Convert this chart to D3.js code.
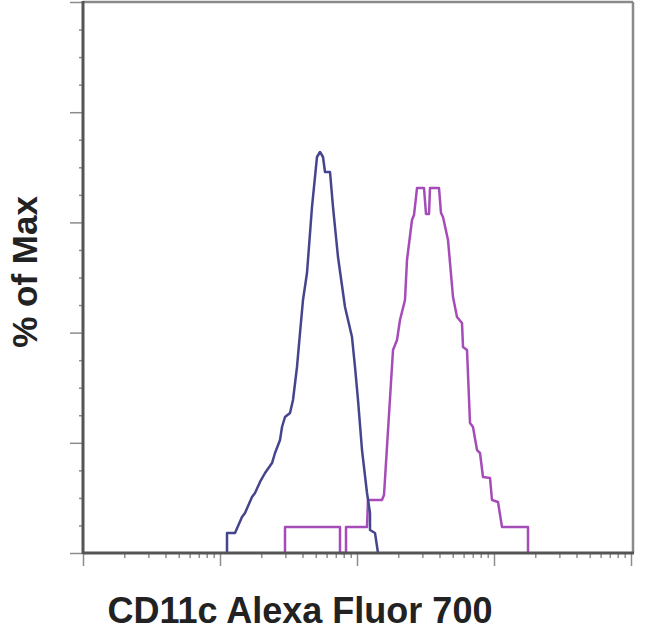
<!DOCTYPE html>
<html>
<head>
<meta charset="utf-8">
<script src="https://cdn.jsdelivr.net/npm/d3@7"></script>
<style>
  html, body { margin: 0; padding: 0; background: #fff; }
  svg { display: block; }
</style>
</head>
<body>
<svg id="chart" width="650" height="634"></svg>
<script>
// ---- data ----
const xLabel = "CD11c Alexa Fluor 700";
const yLabel = "% of Max";

// blue (control) histogram outline: intensity, % of max
const blueX = [112.5, 112.5, 128.7, 144.7, 152.2, 171.2, 180.1, 195.9, 213.1, 239.7, 252.1, 274.2, 283.6, 298.2, 324.3, 341.1, 364.8, 383.7, 403.5, 431.5, 469.3, 510.5, 537.0, 564.7, 584.1, 635.3, 668.2, 726.6, 817.4, 919.3, 966.9, 1016.9, 1087.7, 1183.1, 1244.3, 1244.3, 1353.4, 1423.4];
const blueY = [0, 3.63, 3.63, 6.53, 7.26, 10.16, 10.89, 12.89, 14.52, 16.33, 18.15, 20.51, 22.87, 24.68, 25.41, 27.77, 33.76, 39.93, 45.92, 50.82, 62.79, 71.87, 72.78, 71.87, 69.15, 69.15, 62.79, 53.72, 44.65, 39.20, 33.76, 27.77, 18.69, 10.89, 7.26, 4.17, 3.63, 0];

// magenta (stained) histogram outline: intensity, % of max
const magentaX = [298.2, 298.2, 751.4, 751.4, 831.3, 831.3, 1183.1, 1203.2, 1522.1, 1574.2, 1831.7, 1959.1, 2059.5, 2240.2, 2317.0, 2520.0, 2606.4, 2741.7, 3084.1, 3188.8, 3353.9, 3410.8, 3967.6, 4103.3, 4243.7, 4616.0, 5020.9, 5370.3, 5840.6, 5939.8, 6353.3, 6681.3, 7026.8, 7514.6, 7903.0, 8312.6, 9350.4, 9669, 10695, 11439, 17712, 17712];
const magentaY = [0, 4.72, 4.72, 0, 0, 4.72, 4.72, 9.62, 9.62, 10.53, 36.84, 38.66, 42.29, 45.92, 53.18, 60.44, 61.34, 66.24, 66.24, 61.52, 61.52, 66.24, 66.24, 61.71, 60.98, 56.81, 46.46, 42.83, 41.74, 37.39, 36.84, 23.59, 22.87, 18.69, 18.15, 13.79, 13.61, 9.62, 9.26, 4.72, 4.72, 0];

const xDomain = [10, 100000];
const xMajorTicks = [10, 100, 1000, 10000, 100000];
const yDomain = [0, 100];
const yMajorTicks = [0, 20, 40, 60, 80, 100];
const yMinorTicks = [5, 10, 15, 25, 30, 35, 45, 50, 55, 65, 70, 75, 85, 90, 95];

// ---- layout ----
const mLeft = 83, mRight = 631, mTop = 2, mBottom = 553;
const svg = d3.select("#chart");

const x = d3.scaleLog().domain(xDomain).range([mLeft, mRight]);
const y = d3.scaleLinear().domain(yDomain).range([mBottom, mTop]);

const xMinorTicks = [];
for (let d = 0; d < xMajorTicks.length - 1; d++) {
  for (let k = 2; k <= 9; k++) xMinorTicks.push(xMajorTicks[d] * k);
}

// frame (top/right lighter)
svg.append("line").attr("x1", mLeft).attr("x2", mRight + 2).attr("y1", mTop).attr("y2", mTop)
  .attr("stroke", "#8a8a8a").attr("stroke-width", 2.5);
svg.append("line").attr("x1", mRight + 2).attr("x2", mRight + 2).attr("y1", mTop).attr("y2", mBottom)
  .attr("stroke", "#8a8a8a").attr("stroke-width", 2.5);

// axes
function styleAxis(g) {
  g.select(".domain").remove();
  g.selectAll(".tick line").attr("stroke", "#8c8c8c").attr("stroke-width", 1.5);
  g.selectAll(".tick text").remove();
}
svg.append("g").attr("transform", `translate(0,${mBottom})`)
  .call(d3.axisBottom(x).tickValues(xMajorTicks).tickSize(13).tickFormat(""))
  .call(styleAxis);
svg.append("g").attr("transform", `translate(0,${mBottom})`)
  .call(d3.axisBottom(x).tickValues(xMinorTicks).tickSize(5).tickFormat(""))
  .call(styleAxis);
svg.append("g").attr("transform", `translate(${mLeft},0)`)
  .call(d3.axisLeft(y).tickValues(yMajorTicks).tickSize(13).tickFormat(""))
  .call(styleAxis);
svg.append("g").attr("transform", `translate(${mLeft},0)`)
  .call(d3.axisLeft(y).tickValues(yMinorTicks).tickSize(4).tickFormat(""))
  .call(styleAxis);

// curves
const line = d3.line().x(d => x(d[0])).y(d => y(d[1])).curve(d3.curveLinear);
svg.append("path").datum(d3.zip(magentaX, magentaY))
  .attr("d", line).attr("fill", "none")
  .attr("stroke", "#a64cb8").attr("stroke-width", 2.5).attr("stroke-linejoin", "round");
svg.append("path").datum(d3.zip(blueX, blueY))
  .attr("d", line).attr("fill", "none")
  .attr("stroke", "#45458e").attr("stroke-width", 2.5).attr("stroke-linejoin", "round");

// main axis lines (left, bottom)
svg.append("line").attr("x1", mLeft).attr("x2", mLeft).attr("y1", mTop - 1).attr("y2", mBottom + 1)
  .attr("stroke", "#555").attr("stroke-width", 3);
svg.append("line").attr("x1", mLeft).attr("x2", mRight + 3).attr("y1", mBottom).attr("y2", mBottom)
  .attr("stroke", "#555").attr("stroke-width", 3);

// labels
svg.append("text").attr("x", 300).attr("y", 623)
  .attr("text-anchor", "middle")
  .attr("font-family", "Liberation Sans, Arial, sans-serif")
  .attr("font-weight", "bold")
  .attr("font-size", 36).attr("fill", "#222")
  .text(xLabel);
svg.append("text")
  .attr("transform", "translate(37,272) rotate(-90)")
  .attr("text-anchor", "middle")
  .attr("font-family", "Liberation Sans, Arial, sans-serif")
  .attr("font-weight", "bold")
  .attr("font-size", 35).attr("fill", "#222")
  .text(yLabel);
</script>
</body>
</html>
